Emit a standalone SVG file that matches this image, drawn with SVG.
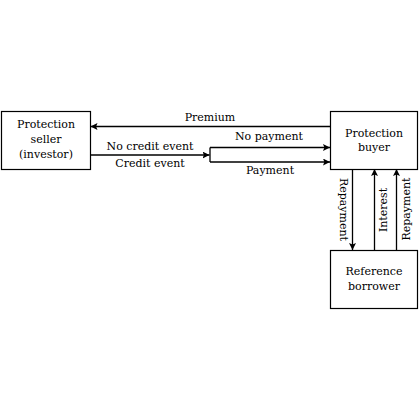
<svg xmlns="http://www.w3.org/2000/svg" width="420" height="420" viewBox="0 0 420 420">
<style>
.box{fill:#fff;stroke:#000;stroke-width:1.2}
.ln{fill:none;stroke:#000;stroke-width:1.3}
</style>
<defs>
<marker id="ah" viewBox="0 0 10 10" refX="10" refY="5" markerWidth="7" markerHeight="7" markerUnits="userSpaceOnUse" orient="auto">
<path d="M0,0 L10,5 L0,10 L2,5 Z" fill="#000"/>
</marker>
</defs>
<rect width="420" height="420" fill="#fff"/>
<g font-family="DejaVu Serif, serif" font-size="11" text-anchor="middle" fill="#000">
<g id="connectors">
<line class="ln" x1="330" y1="126.5" x2="90.5" y2="126.5" marker-end="url(#ah)"/>
<line class="ln" x1="90.5" y1="155" x2="209.5" y2="155" marker-end="url(#ah)"/>
<line class="ln" x1="210" y1="147.5" x2="210" y2="162"/>
<line class="ln" x1="210" y1="147.5" x2="330" y2="147.5" marker-end="url(#ah)"/>
<line class="ln" x1="210" y1="162" x2="330" y2="162" marker-end="url(#ah)"/>
<line class="ln" x1="352.5" y1="169" x2="352.5" y2="250" marker-end="url(#ah)"/>
<line class="ln" x1="374.5" y1="250" x2="374.5" y2="169" marker-end="url(#ah)"/>
<line class="ln" x1="396.5" y1="250" x2="396.5" y2="169" marker-end="url(#ah)"/>
<text x="210" y="121">Premium</text>
<text x="150" y="150">No credit event</text>
<text x="150" y="167">Credit event</text>
<text x="269" y="140">No payment</text>
<text x="270" y="174">Payment</text>
<text transform="translate(339.5,209.5) rotate(90)">Repayment</text>
<text transform="translate(387,210) rotate(-90)">Interest</text>
<text transform="translate(409.5,209) rotate(-90)">Repayment</text>
</g>
<g id="seller">
<rect class="box" x="1.5" y="111.5" width="89" height="58"/>
<text x="46" y="128">Protection</text>
<text x="46" y="143">seller</text>
<text x="46" y="158">(investor)</text>
</g>
<g id="buyer">
<rect class="box" x="330.5" y="111.5" width="87" height="58"/>
<text x="374" y="137">Protection</text>
<text x="374" y="151">buyer</text>
</g>
<g id="borrower">
<rect class="box" x="330.5" y="250.5" width="87" height="58"/>
<text x="374" y="275">Reference</text>
<text x="374" y="290">borrower</text>
</g>
</g>
</svg>
